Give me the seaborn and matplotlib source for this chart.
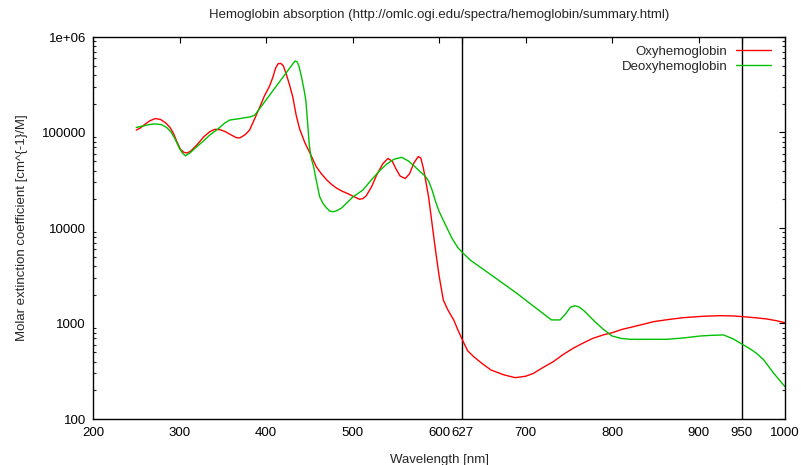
import numpy as np
import pandas as pd
import matplotlib
matplotlib.use("Agg")
import matplotlib.pyplot as plt
import matplotlib.ticker as mticker
import seaborn as sns

title = "Hemoglobin absorption (http://omlc.ogi.edu/spectra/hemoglobin/summary.html)"
xlabel = "Wavelength [nm]"
ylabel = "Molar extinction coefficient [cm^{-1}/M]"

oxy_wl = [250, 255, 260, 266, 272, 278, 284, 289, 293, 297, 301, 305, 309, 313,
          320, 328, 335, 341, 347, 353, 360, 366, 370, 376, 381, 387, 393, 398,
          404, 408, 411, 414, 417, 420, 423, 427, 431, 435, 439, 445, 451, 458,
          464, 470, 476, 482, 488, 495, 502, 508, 512, 516, 522, 528, 535, 541,
          546, 550, 555, 561, 566, 571, 576, 579, 582, 585, 588, 591, 594, 597,
          600, 605, 610, 617, 622, 628, 633, 640, 650, 660, 675, 688, 700, 709,
          720, 732, 743, 755, 766, 778, 790, 800, 812, 825, 848, 865, 882, 905,
          925, 940, 952, 965, 979, 990, 1000]
oxy_val = [106000, 112000, 122000, 133000, 140000, 137000, 126000, 113000, 98000,
           80000, 67000, 62000, 61000, 64000, 74000, 90000, 102000, 108000, 107000,
           102000, 94000, 88000, 88000, 95000, 106000, 140000, 186000, 240000,
           305000, 380000, 470000, 525000, 530000, 500000, 420000, 320000, 235000,
           150000, 108000, 78000, 60500, 44000, 37000, 32000, 28500, 26000, 24300,
           22800, 21200, 20000, 20300, 21800, 27000, 36000, 47000, 53500, 50000,
           42000, 35000, 33000, 37000, 48000, 56000, 54000, 42000, 30000, 21000,
           13000, 8000, 5000, 3200, 1760, 1400, 1090, 850, 645, 520, 450, 380, 326,
           290, 271, 280, 300, 345, 398, 470, 550, 620, 700, 760, 800, 870, 927,
           1045, 1100, 1150, 1190, 1208, 1200, 1178, 1150, 1115, 1070, 1020]

deoxy_wl = [250, 258, 265, 272, 279, 285, 290, 295, 300, 304, 307, 312, 320, 328,
            335, 345, 352, 358, 370, 382, 387, 433.5, 436, 438, 441, 444, 446, 448,
            450, 452, 455, 458, 462, 466, 470, 474, 478, 482, 487, 494, 500, 512,
            522, 532, 540, 548, 557, 565, 572, 578, 584, 588, 592, 596, 600, 607,
            615, 622, 628, 636, 660, 690, 710, 730, 740, 746, 752, 757, 762, 768,
            780, 790, 800, 810, 821, 842, 863, 882, 902, 915, 929, 940, 952, 960,
            967, 975, 987, 1000]
deoxy_val = [113000, 117000, 121000, 123000, 121000, 113000, 102000, 85000, 68000,
             60000, 57000, 61000, 71000, 82000, 94000, 110000, 125000, 135000,
             140000, 146000, 152000, 561000, 550000, 500000, 384000, 280000, 219000,
             130000, 75000, 55000, 44000, 32000, 21300, 18000, 16200, 15000, 14800,
             15200, 16100, 18500, 21000, 25000, 32000, 40400, 47000, 52500, 55000,
             50000, 44000, 39000, 35000, 31000, 25000, 19000, 15000, 11000, 7800,
             6200, 5430, 4620, 3240, 2070, 1500, 1090, 1090, 1250, 1480, 1535, 1490,
             1350, 1050, 870, 740, 700, 683, 683, 683, 705, 740, 752, 759, 690, 596,
             540, 488, 420, 301, 218]

series_names = ["Oxyhemoglobin", "Deoxyhemoglobin"]
series_colors = ["#ff0000", "#00c000"]
marker_lines = [627, 950]
xticks = [200, 300, 400, 500, 600, 627, 700, 800, 900, 950, 1000]
yticks = [100, 1000, 10000, 100000, 1000000]
ytick_labels = ["100", "1000", "10000", "100000", "1e+06"]

df = pd.concat([
    pd.DataFrame({"wl": oxy_wl, "val": oxy_val, "series": series_names[0]}),
    pd.DataFrame({"wl": deoxy_wl, "val": deoxy_val, "series": series_names[1]}),
], ignore_index=True)

sns.set_theme(style="white")
plt.rcParams["font.family"] = ["Liberation Sans", "DejaVu Sans"]
plt.rcParams["font.size"] = 9.5

fig = plt.figure(figsize=(8.01, 4.65), dpi=100)
ax = fig.add_axes([93 / 801, 1 - 419 / 465, (785 - 93) / 801, (419 - 37) / 465])

sns.lineplot(data=df, x="wl", y="val", hue="series", hue_order=series_names,
             palette=series_colors, estimator=None, sort=False, lw=1.0, ax=ax)

for xv in marker_lines:
    ax.axvline(xv, color="black", lw=1.0, zorder=1)

ax.set_yscale("log")
ax.set_xlim(200, 1000)
ax.set_ylim(100, 1e6)
ax.set_xticks(xticks)
ax.set_xticklabels([str(t) for t in xticks])
ax.set_yticks(yticks)
ax.set_yticklabels(ytick_labels)
ax.yaxis.set_minor_locator(mticker.LogLocator(base=10, subs=np.arange(2, 10)))
ax.yaxis.set_minor_formatter(mticker.NullFormatter())

ax.tick_params(axis="both", which="major", direction="in", length=4.5, width=0.8,
               top=True, right=True, labelsize=9.5, colors="black", pad=5)
ax.tick_params(axis="x", which="major", pad=6)
ax.tick_params(axis="y", which="minor", direction="in", length=2.5, width=0.8,
               left=True, right=True)
for sp in ax.spines.values():
    sp.set_visible(True)
    sp.set_color("black")
    sp.set_linewidth(1.0)

ax.set_xlabel(xlabel, fontsize=9.5, labelpad=10.5)
ax.set_ylabel(ylabel, fontsize=9.5, labelpad=10)
ax.set_title(title, fontsize=9.5, pad=14)

handles, labels = ax.get_legend_handles_labels()
ax.legend(handles, labels, loc="upper right", bbox_to_anchor=(0.98, 0.977),
          frameon=False, markerfirst=False, handlelength=2.7, handletextpad=0.6,
          labelspacing=0.2, borderpad=0, borderaxespad=0, fontsize=9.5)

fig.savefig("out.png", dpi=100)
